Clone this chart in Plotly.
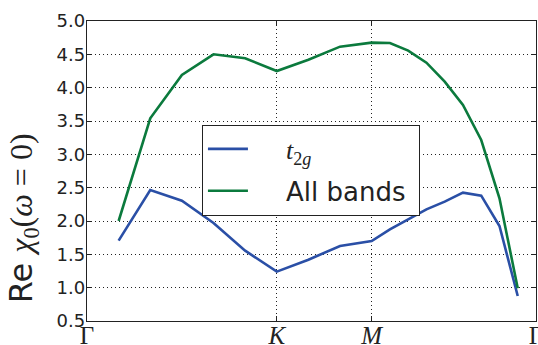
import plotly.graph_objects as go

# k-path positions (hexagonal path Γ-K-M-Γ)
kpath = [0.2222, 0.4444, 0.6667, 0.8889, 1.1111, 1.3333, 1.5556, 1.7778, 2.0,
         2.1283, 2.2566, 2.3849, 2.5132, 2.6415, 2.7698, 2.8981, 3.0264]
t2g = [1.705, 2.465, 2.305, 1.97, 1.555, 1.24, 1.42, 1.625, 1.70,
       1.875, 2.025, 2.175, 2.29, 2.425, 2.38, 1.925, 0.875]
all_bands = [2.00, 3.54, 4.19, 4.50, 4.44, 4.25, 4.42, 4.615, 4.675,
             4.67, 4.555, 4.375, 4.09, 3.74, 3.215, 2.34, 0.99]
tick_pos = [0.0, 1.3333, 2.0, 3.1547]
tick_labels = ["Γ", "<i>K</i>", "<i>M</i>", "Γ"]
y_ticks = [0.5, 1.0, 1.5, 2.0, 2.5, 3.0, 3.5, 4.0, 4.5, 5.0]

SERIF = "Liberation Serif"
PAD = "&nbsp;" * 4

fig = go.Figure()
fig.add_trace(go.Scatter(
    x=kpath, y=t2g, mode="lines",
    line=dict(color="#2a4fa6", width=2.6),
    name=PAD + "<span style='font-family:Liberation Serif'><i>t</i><sub>2<i>g</i></sub></span>",
    legendgroup="a"))
fig.add_trace(go.Scatter(
    x=kpath, y=all_bands, mode="lines",
    line=dict(color="#0b7a3d", width=2.6),
    name=PAD + "All bands&nbsp;", legendgroup="b"))

fig.update_layout(
    width=538, height=345,
    margin=dict(l=87, r=2, t=21, b=24, autoexpand=False),
    paper_bgcolor="white", plot_bgcolor="white",
    font=dict(family="DejaVu Sans", color="#222"),
    legend=dict(
        x=0.256, y=0.655, xanchor="left", yanchor="top",
        bgcolor="white", bordercolor="#222", borderwidth=1,
        font=dict(size=26, family="DejaVu Sans", color="#222"),
        tracegroupgap=5, traceorder="grouped",
        itemwidth=40,
    ),
    xaxis=dict(
        range=[0, 3.1547], tickmode="array", tickvals=tick_pos, ticktext=tick_labels,
        tickfont=dict(family=SERIF, size=25, color="#222"),
        showgrid=True, gridcolor="#222", griddash="1px,3px", gridwidth=1,
        showline=True, linecolor="#222", linewidth=1.3, mirror="allticks",
        ticks="inside", ticklen=5, tickcolor="#222", zeroline=False,
        automargin=False, ticklabelstandoff=-8, ticklabeloverflow="allow",
    ),
    yaxis=dict(
        range=[0.5, 5.0], tickmode="array", tickvals=y_ticks,
        ticktext=[f"{v:.1f}" for v in y_ticks],
        tickfont=dict(family="DejaVu Sans", size=18, color="#222"),
        showgrid=True, gridcolor="#222", griddash="1px,3px", gridwidth=1,
        showline=True, linecolor="#222", linewidth=1.3, mirror="allticks",
        ticks="inside", ticklen=5, tickcolor="#222", zeroline=False,
        automargin=False, ticklabelstandoff=-3,
    ),
    annotations=[dict(
        text="Re <span style='font-family:Liberation Serif'><i>χ</i><sub>0</sub>(<i>ω</i> = 0)</span>",
        xref="paper", yref="paper", x=-0.142, y=0.343,
        xanchor="center", yanchor="middle", textangle=-90, showarrow=False,
        font=dict(size=32, family="DejaVu Sans", color="#222"))],
)

fig.write_html("out.html", config={"displayModeBar": False},
               post_script="document.body.style.margin='0';document.body.style.overflow='hidden';")
